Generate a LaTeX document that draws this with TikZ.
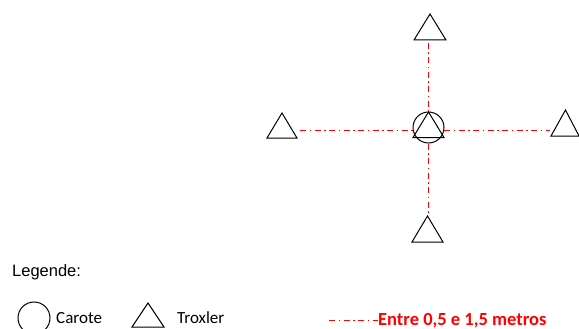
\documentclass[tikz,border=0pt]{standalone}
\usepackage{fontspec}
\setmainfont{Carlito}
\newfontfamily\arialfont{Liberation Sans}
\begin{document}
\begin{tikzpicture}[x=1pt,y=-1pt,
  troxler/.style={draw=black, line width=1pt, line join=miter},
  carote/.style={draw=black, line width=1pt},
  spacing/.style={draw=red, line width=1pt, dash pattern=on 6pt off 3.5pt on 1.5pt off 3.5pt},
  legendtxt/.style={anchor=west, inner sep=0pt, font=\fontsize{17}{20}\selectfont}]
\useasboundingbox (0,0) rectangle (579,329);
% central point: carote with troxler inside
\node[circle, carote, minimum size=31pt, inner sep=0pt] (c) at (428.5,127.5) {};
\draw[troxler] (428.5,112) -- (444,137.5) -- (413,137.5) -- cycle;
% surrounding troxler points
\draw[troxler] (430,14) -- (446,40) -- (414,40) -- cycle;
\draw[troxler] (427.5,216) -- (443,242) -- (412,242) -- cycle;
\draw[troxler] (282,113) -- (297,138) -- (267,138) -- cycle;
\draw[troxler] (565.5,110) -- (579,136) -- (551,136) -- cycle;
% spacing lines
\coordinate (nA) at (428.5,43);
\coordinate (sA) at (428.5,214);
\coordinate (wA) at (300,130.5);
\coordinate (eA) at (550,130.5);
\draw[spacing] (nA) -- (nA |- c.north);
\draw[spacing] (sA |- c.south) -- (sA);
\draw[spacing] (wA) -- ([xshift=0.3pt]c.west |- wA);
\draw[spacing] ([xshift=-0.3pt]c.east |- eA) -- (eA);
% legend
\node[anchor=west, inner sep=0pt, font=\arialfont\fontsize{16.5}{19}\selectfont] (leg) at (12,272) {Legende:};
\node[circle, carote, minimum size=32pt, inner sep=0pt] (lc) at (34,318) {};
\node[legendtxt] (lct) at (56,318) {Carote};
\draw[troxler] (148,303) -- (164,327) -- (132,327) -- cycle;
\node[legendtxt] (ltt) at (177,318) {Troxler};
\coordinate (la) at (329,320.5);
\coordinate (lb) at (378,320.5);
\draw[spacing] (la) -- (lb);
\node[anchor=west, inner sep=0pt, text=red, font=\bfseries\fontsize{18.5}{21}\selectfont] (lst) at (lb) {Entre 0,5 e 1,5 metros};
\end{tikzpicture}
\end{document}
